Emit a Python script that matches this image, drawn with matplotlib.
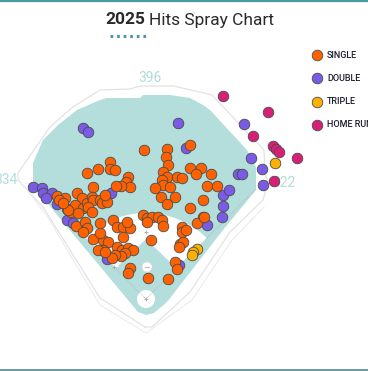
import matplotlib
matplotlib.use("Agg")
import matplotlib.pyplot as plt
from matplotlib.patches import Polygon, Circle
import numpy as np

# hit locations (hc_x / hc_y style, y grows downward, home plate near 146, 299)
single_x = [144, 167, 166, 168, 110, 110, 115, 98, 87, 93,
            128, 126, 130, 121, 116, 163, 167, 162, 163, 170,
            155, 177, 182, 175, 161, 167, 190, 190, 201, 196,
            211, 207, 217, 203, 190, 203,
            143, 147, 152, 158, 162, 163, 147, 182, 182, 186, 197, 204, 151, 180, 183, 179,
            175, 177, 168, 148, 130, 128,
            113, 117, 123, 130, 127, 123, 103, 108, 103, 117, 122, 128, 133, 125, 121, 115, 112, 98, 105, 93, 100, 100,
            57, 65, 67, 71, 77, 82, 75, 83, 78, 87, 76, 85, 87, 83, 92, 93, 100, 102, 107, 105, 88, 92, 68, 59, 63]
single_y = [150, 149, 157, 165, 162, 169, 170, 169, 173, 187,
            177, 182, 187, 186, 186, 172, 177, 180, 185, 187,
            188, 177, 178, 197, 197, 204, 145, 168, 168, 174,
            174, 186, 186, 200, 208, 217,
            215, 218, 217, 217, 220, 226, 222, 227, 232, 230, 223, 217, 240, 244, 242, 247,
            262, 269, 279, 278, 268, 273,
            220, 227, 227, 228, 222, 237, 240, 242, 250, 247, 250, 248, 250, 253, 256, 255, 258, 250, 252, 239, 233, 223,
            196, 198, 209, 212, 193, 198, 205, 208, 213, 203, 226, 222, 228, 232, 197, 200, 200, 203, 202, 195, 207, 212, 210, 200, 203]

double_x = [83, 88, 178, 186, 33, 42, 43, 52, 46, 57, 67, 73, 111, 107, 179, 207,
            222, 223, 223, 229, 238, 242, 244, 251, 262, 263]
double_y = [128, 132, 123, 148, 187, 188, 193, 193, 198, 204, 220, 223, 193, 259, 265, 225,
            217, 206, 195, 190, 174, 174, 124, 158, 169, 185]

triple_x = [275, 197, 193, 192]
triple_y = [163, 249, 252, 255]

hr_x = [223, 268, 253, 273, 276, 279, 297, 274]
hr_y = [96, 112, 136, 146, 149, 152, 158, 181]

legend_labels = ["SINGLE", "DOUBLE", "TRIPLE", "HOME RUN"]
colors = ["#ff6100", "#7a5be6", "#ffb000", "#d81f78"]

# park outline
fair = [(146, 315), (138, 312), (33, 186), (33, 163), (43, 140), (58, 125), (77, 110),
        (100, 100), (107, 98), (140, 98), (143, 95), (170, 95), (190, 98), (203, 105),
        (210, 110), (247, 150), (256, 167), (256, 190), (223, 230), (167, 302), (154, 313)]
wall = [(145, 327), (100, 298), (43, 207), (18, 180), (18, 173), (50, 127), (73, 107),
        (100, 90), (130, 89), (140, 86), (173, 86), (200, 92), (212, 95), (264, 150),
        (265, 174), (268, 182), (263, 200), (230, 232), (190, 292), (152, 327), (145, 327)]
wall2 = [(24, 186), (47, 216), (100, 305), (146, 333), (192, 300), (232, 240), (264, 207)]

home = (146, 299)
teal = "#b3dedb"
line_teal = "#4a9aa5"

fig = plt.figure(figsize=(3.68, 3.71), dpi=100)
ax = fig.add_axes([0, 0, 1, 1])
ax.set_xlim(0, 368)
ax.set_ylim(371, 0)
ax.axis("off")

ax.plot(*zip(*wall), color="#e3e3e3", lw=0.9, zorder=1)
ax.plot(*zip(*wall2), color="#ececec", lw=0.8, zorder=1)
ax.add_patch(Polygon(fair, closed=True, fc=teal, ec="none", zorder=2))

# infield dirt + grass
r = 86
ang = np.radians(np.linspace(45, 135, 40))
arc = [(home[0] + r * np.cos(a), home[1] - r * np.sin(a)) for a in ang]
dirt = [(178, 267)] + arc + [(114, 267)]
ax.add_patch(Polygon(dirt, closed=True, fc="white", ec="none", zorder=3))
grass = [(146, 239), (118, 266), (146, 294), (174, 266)]
ax.add_patch(Polygon(grass, closed=True, fc=teal, ec="none", zorder=3))
ax.add_patch(Circle(home, 9, fc="white", ec="none", zorder=3))
ax.add_patch(Circle((147, 267), 5, fc="white", ec="#dddddd", lw=0.5, zorder=3))
ax.plot([145, 149], [267, 267], color="#aaaaaa", lw=0.6, zorder=4)

# foul lines and bases
ax.plot([home[0], 33], [home[1], 186], color="#b8b8b8", lw=0.6, ls=(0, (1, 1)), zorder=4)
ax.plot([home[0], 256], [home[1], 189], color="#b8b8b8", lw=0.6, ls=(0, (1, 1)), zorder=4)
ax.scatter([146, 114, 178, 146], [232, 267, 267, 299], marker="+", s=8, c="#aaaaaa", lw=0.6, zorder=4)

# distances
ax.text(150, 78, "396", color="#b0dcdc", fontsize=10, family="Roboto", ha="center", va="center")
ax.text(6, 180, "334", color="#b0dcdc", fontsize=10, family="Roboto", ha="center", va="center")
ax.text(284, 183, "322", color="#b0dcdc", fontsize=10, family="Roboto", ha="center", va="center")

# hits
ec = "#4a4a4a"
ax.scatter(double_x, double_y, s=58, c=colors[1], edgecolors=ec, lw=0.6, zorder=5)
ax.scatter(single_x, single_y, s=58, c=colors[0], edgecolors=ec, lw=0.6, zorder=6)
ax.scatter(triple_x, triple_y, s=58, c=colors[2], edgecolors=ec, lw=0.6, zorder=7)
ax.scatter(hr_x, hr_y, s=58, c=colors[3], edgecolors=ec, lw=0.6, zorder=7)

# legend
for i, (lab, col) in enumerate(zip(legend_labels, colors)):
    y = 55 + i * 23.3
    ax.scatter([317], [y], s=58, c=col, edgecolors=ec, lw=0.6, zorder=8, clip_on=False)
    ax.text(327, y, lab, fontsize=6.5, family="Roboto", weight="medium", color="#1c1c30",
            va="center", ha="left")

# title
ax.text(145, 20, "2025", fontsize=12.5, family="Roboto", weight="bold", color="#2a2a2a", ha="right", va="center")
ax.text(149, 20, "Hits Spray Chart", fontsize=12.5, family="Roboto", color="#2a2a2a", ha="left", va="center")
ax.plot([109.5, 146], [36, 36], color=line_teal, lw=2.2, ls=(0, (0.9, 1.25)),
        solid_capstyle="butt", dash_capstyle="butt")

# top / bottom rules
ax.axhline(0.6, color=line_teal, lw=1.6)
ax.axhline(369.5, color="#4f8790", lw=1.2)

fig.savefig("out.png", dpi=100)
